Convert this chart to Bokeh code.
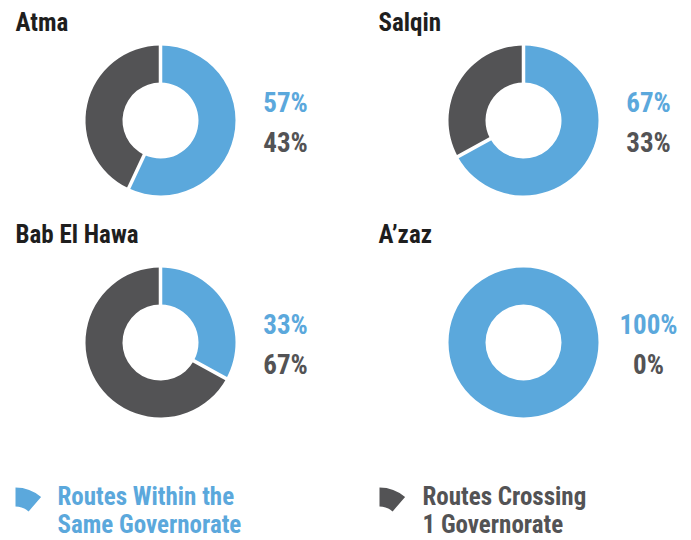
import math
from bokeh.plotting import figure
from bokeh.models import Range1d
from bokeh.core.properties import value
from bokeh.embed import file_html
from bokeh.resources import INLINE

# ---- data ----
sites = ["Atma", "Salqin", "Bab El Hawa", "A\u2019zaz"]
within_pct = [57, 67, 33, 100]      # Routes Within the Same Governorate
crossing_pct = [43, 33, 67, 0]      # Routes Crossing 1 Governorate
legend_lines = [["Routes Within the", "Same Governorate"],
                ["Routes Crossing", "1 Governorate"]]

# ---- style / layout ----
W, H = 691, 540
BLUE = "#5BA8DC"
DARK = "#535355"
TITLE_C = "#1e1e1e"
FONT = value("'Roboto Condensed', 'Liberation Sans Narrow', 'Liberation Sans', sans-serif")
R_OUT, R_IN = 75, 38
centers = [(160, 120), (523, 120), (160, 342), (523, 342)]   # pixel coords (y down)
titles_xy = [(15, 31), (378, 31), (15, 243), (378, 243)]
PCT_DX = 125

def Y(py):
    return H - py

def TY(py, size):
    # empirical baseline correction of the renderer
    return H - (py - 0.37 * size)

p = figure(width=W, height=H, x_range=Range1d(0, W), y_range=Range1d(0, H),
           output_backend="svg", toolbar_location=None, min_border=0)
p.axis.visible = False
p.grid.visible = False
p.outline_line_color = None
p.background_fill_color = "white"
p.border_fill_color = "white"

for i, site in enumerate(sites):
    cx, cy = centers[i]
    vals = [within_pct[i], crossing_pct[i]]
    cols = [BLUE, DARK]
    total = float(sum(vals))
    start = math.pi / 2
    bounds = []
    for v, c in zip(vals, cols):
        if v <= 0:
            continue
        span = v / total * 2 * math.pi
        if span >= 2 * math.pi - 1e-9:
            p.annulus(x=[cx], y=[Y(cy)], inner_radius=R_IN, outer_radius=R_OUT,
                      inner_radius_units="screen", outer_radius_units="screen",
                      fill_color=c, line_color=None)
        else:
            end = start - span
            p.annular_wedge(x=[cx], y=[Y(cy)], inner_radius=R_IN, outer_radius=R_OUT,
                            inner_radius_units="screen", outer_radius_units="screen",
                            start_angle=start, end_angle=end, direction="clock",
                            fill_color=c, line_color=None)
            bounds.append(start)
            start = end
    if len(bounds) > 1:
        xs0 = [cx + (R_IN - 2) * math.cos(a) for a in bounds]
        ys0 = [Y(cy) + (R_IN - 2) * math.sin(a) for a in bounds]
        xs1 = [cx + (R_OUT + 2) * math.cos(a) for a in bounds]
        ys1 = [Y(cy) + (R_OUT + 2) * math.sin(a) for a in bounds]
        p.segment(x0=xs0, y0=ys0, x1=xs1, y1=ys1, line_color="white", line_width=3.5)

    tx, ty = titles_xy[i]
    p.text(x=[tx], y=[TY(ty, 25)], text=[site], text_font=FONT, text_font_style="bold",
           text_font_size="25px", text_color=TITLE_C, text_baseline="alphabetic",
           text_align="left")
    p.text(x=[cx + PCT_DX], y=[TY(cy - 8, 27)], text=[f"{within_pct[i]}%"], text_font=FONT,
           text_font_style="bold", text_font_size="27px", text_color=BLUE,
           text_baseline="alphabetic", text_align="center")
    p.text(x=[cx + PCT_DX], y=[TY(cy + 32, 27)], text=[f"{crossing_pct[i]}%"], text_font=FONT,
           text_font_style="bold", text_font_size="27px", text_color=DARK,
           text_baseline="alphabetic", text_align="center")

# ---- legend ----
leg_icon = [(15, 526), (379, 526)]
leg_text_x = [57, 422]
leg_cols = [BLUE, DARK]
for j, lines in enumerate(legend_lines):
    ix, iy = leg_icon[j]
    p.annular_wedge(x=[ix], y=[Y(iy)], inner_radius=20, outer_radius=39,
                    inner_radius_units="screen", outer_radius_units="screen",
                    start_angle=math.radians(49), end_angle=math.radians(90),
                    direction="anticlock", fill_color=leg_cols[j], line_color=None)
    for k, ln in enumerate(lines):
        p.text(x=[leg_text_x[j]], y=[TY(505 + 28 * k, 25)], text=[ln], text_font=FONT,
               text_font_style="bold", text_font_size="25px", text_color=leg_cols[j],
               text_baseline="alphabetic", text_align="left")

open("out.html", "w").write(file_html(p, INLINE))
